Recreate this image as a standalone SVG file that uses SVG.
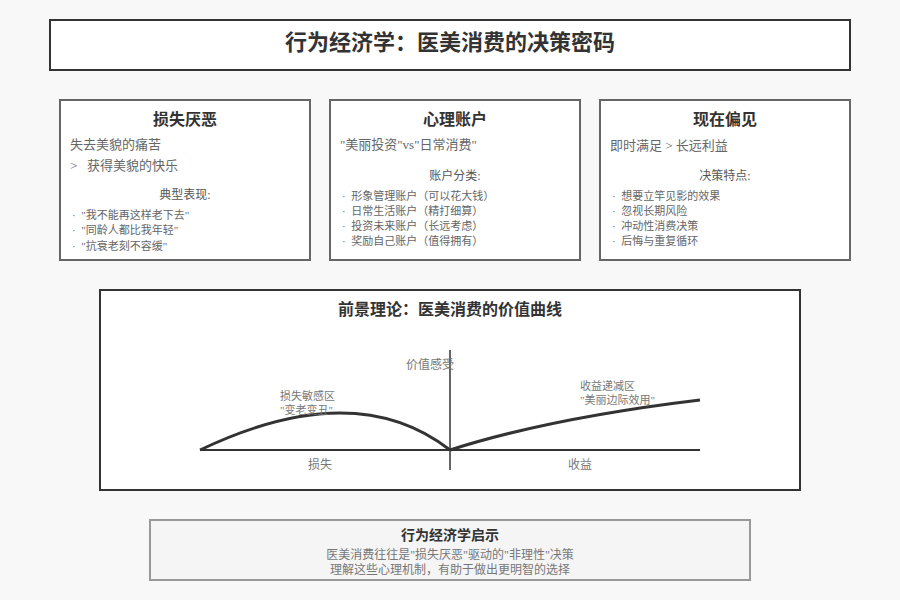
<svg xmlns="http://www.w3.org/2000/svg" width="900" height="600" viewBox="0 0 900 600">
<style>
text{font-family:"Liberation Serif","Noto Sans CJK SC",serif;}
.box{fill:#fff;stroke:#666;stroke-width:2;}
.h{font-size:16px;font-weight:bold;fill:#333;text-anchor:middle;}
.sub{font-size:13px;fill:#666;}
.sec{font-size:12px;fill:#555;text-anchor:middle;}
.li{font-size:11px;fill:#666;}
.lab{font-size:11px;fill:#777;}
.ax{stroke:#333;fill:none;}
</style>
<rect width="900" height="600" fill="#f8f8f8"/>
<g id="title">
<rect x="50" y="20" width="800" height="50" fill="#fff" stroke="#333" stroke-width="2"/>
<text x="450" y="50" style="font-size:22px;font-weight:bold;fill:#333;text-anchor:middle">行为经济学：医美消费的决策密码</text>
</g>
<g id="loss-aversion">
<rect class="box" x="60" y="100" width="250" height="160"/>
<text class="h" x="185" y="125">损失厌恶</text>
<text class="sub" x="70" y="149">失去美貌的痛苦</text>
<text class="sub" x="70" y="170" xml:space="preserve">&gt;   获得美貌的快乐</text>
<text class="sec" x="185" y="199">典型表现:</text>
<text class="li" x="72" y="219" xml:space="preserve">·  "我不能再这样老下去"</text>
<text class="li" x="72" y="234" xml:space="preserve">·  "同龄人都比我年轻"</text>
<text class="li" x="72" y="250" xml:space="preserve">·  "抗衰老刻不容缓"</text>
</g>
<g id="mental-accounting">
<rect class="box" x="330" y="100" width="250" height="160"/>
<text class="h" x="455" y="125">心理账户</text>
<text class="sub" x="340" y="149">"美丽投资"vs"日常消费"</text>
<text class="sec" x="455" y="180">账户分类:</text>
<text class="li" x="342" y="200" xml:space="preserve">·  形象管理账户（可以花大钱）</text>
<text class="li" x="342" y="215" xml:space="preserve">·  日常生活账户（精打细算）</text>
<text class="li" x="342" y="230" xml:space="preserve">·  投资未来账户（长远考虑）</text>
<text class="li" x="342" y="245" xml:space="preserve">·  奖励自己账户（值得拥有）</text>
</g>
<g id="present-bias">
<rect class="box" x="600" y="100" width="250" height="160"/>
<text class="h" x="725" y="125">现在偏见</text>
<text class="sub" x="610" y="150">即时满足 &gt; 长远利益</text>
<text class="sec" x="725" y="180">决策特点:</text>
<text class="li" x="612" y="200" xml:space="preserve">·  想要立竿见影的效果</text>
<text class="li" x="612" y="215" xml:space="preserve">·  忽视长期风险</text>
<text class="li" x="612" y="230" xml:space="preserve">·  冲动性消费决策</text>
<text class="li" x="612" y="245" xml:space="preserve">·  后悔与重复循环</text>
</g>
<g id="prospect-theory">
<rect x="100" y="290" width="700" height="200" fill="#fff" stroke="#333" stroke-width="2"/>
<text class="h" x="450" y="315">前景理论：医美消费的价值曲线</text>
<line class="ax" x1="200" y1="450" x2="700" y2="450" stroke-width="2"/>
<line class="ax" x1="450" y1="350" x2="450" y2="470" stroke-width="1.5"/>
<path class="ax" d="M200,450 Q355,376 450,450" stroke-width="3"/>
<path class="ax" d="M450,450 Q550,418 700,400" stroke-width="3"/>
<text class="lab" x="430" y="369" text-anchor="middle" style="font-size:12px">价值感受</text>
<text class="lab" x="280" y="400">损失敏感区</text>
<text class="lab" x="280" y="414">"变老变丑"</text>
<text class="lab" x="580" y="390">收益递减区</text>
<text class="lab" x="580" y="404">"美丽边际效用"</text>
<text class="lab" x="320" y="469" text-anchor="middle" style="font-size:12px">损失</text>
<text class="lab" x="580" y="469" text-anchor="middle" style="font-size:12px">收益</text>
</g>
<g id="insight">
<rect x="150" y="520" width="600" height="60" fill="#f5f5f5" stroke="#999" stroke-width="2"/>
<text x="450" y="540" style="font-size:14px;font-weight:bold;fill:#333;text-anchor:middle">行为经济学启示</text>
<text x="450" y="559" style="font-size:12px;fill:#777;text-anchor:middle">医美消费往往是"损失厌恶"驱动的"非理性"决策</text>
<text x="450" y="574" style="font-size:12px;fill:#777;text-anchor:middle">理解这些心理机制，有助于做出更明智的选择</text>
</g>
</svg>
